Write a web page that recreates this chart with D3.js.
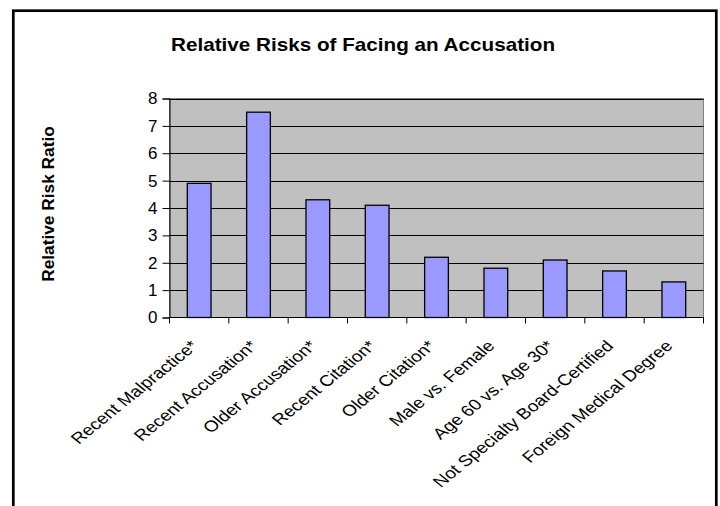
<!DOCTYPE html>
<html>
<head>
<meta charset="utf-8">
<script src="https://cdn.jsdelivr.net/npm/d3@7"></script>
<style>
  html, body { margin: 0; padding: 0; background: #fff; }
  svg { display: block; }
  text { font-family: "Liberation Sans", Arial, sans-serif; fill: #000; }
</style>
</head>
<body>
<svg id="chart" width="720" height="506"></svg>
<script>
const categories = [
  "Recent Malpractice*",
  "Recent Accusation*",
  "Older Accusation*",
  "Recent Citation*",
  "Older Citation*",
  "Male vs. Female",
  "Age 60 vs. Age 30*",
  "Not Specialty Board-Certified",
  "Foreign Medical Degree"
];
const values = [4.9, 7.5, 4.3, 4.1, 2.2, 1.8, 2.1, 1.7, 1.3];
const yTicks = [0, 1, 2, 3, 4, 5, 6, 7, 8];
const chartTitle = "Relative Risks of Facing an Accusation";
const yAxisTitle = "Relative Risk Ratio";

const svg = d3.select("#chart");
const K = 1.13;   // horizontal text stretch of the reference
const KX = 1.23;  // stretch for rotated category labels

// outer frame
svg.append("rect")
  .attr("x", 13.3).attr("y", 10.7)
  .attr("width", 716.3 - 13.3).attr("height", 560)
  .attr("fill", "#fff").attr("stroke", "#000").attr("stroke-width", 2.7);

const plot = { left: 169.5, right: 703.5, top: 98.5, bottom: 317.5 };

const x = d3.scaleBand()
  .domain(categories)
  .range([plot.left, plot.right])
  .paddingInner(0.6).paddingOuter(0.3);

const xb = d3.scaleBand().domain(categories).range([plot.left, plot.right]);

const y = d3.scaleLinear().domain([0, 8]).range([plot.bottom, plot.top]);

// plot background
svg.append("rect")
  .attr("x", plot.left).attr("y", plot.top)
  .attr("width", plot.right - plot.left).attr("height", plot.bottom - plot.top)
  .attr("fill", "#C0C0C0").attr("stroke", "#808080").attr("stroke-width", 1);

// gridlines
svg.append("g").selectAll("line")
  .data(yTicks.filter(d => d > 0))
  .join("line")
  .attr("x1", plot.left).attr("x2", plot.right)
  .attr("y1", d => Math.round(y(d)) + 0.5).attr("y2", d => Math.round(y(d)) + 0.5)
  .attr("stroke", "#000").attr("stroke-width", 1);

// bars
svg.append("g").selectAll("rect")
  .data(values)
  .join("rect")
  .attr("x", (d, i) => x(categories[i]))
  .attr("width", x.bandwidth())
  .attr("y", d => y(d))
  .attr("height", d => plot.bottom - y(d))
  .attr("fill", "#9999FF")
  .attr("stroke", "#000").attr("stroke-width", 1.3);

// y axis
const yAxis = svg.append("g")
  .attr("transform", `translate(${plot.left},0)`)
  .call(d3.axisLeft(y).tickValues(yTicks).tickSize(7).tickPadding(5).tickFormat(d3.format("d")));
yAxis.select(".domain").attr("stroke", "#000");
yAxis.selectAll(".tick line").attr("stroke", "#000");
yAxis.selectAll(".tick text")
  .attr("font-size", 17)
  .attr("font-family", "'Liberation Sans', Arial, sans-serif")
  .attr("fill", "#000");

// x axis line and ticks at category boundaries
const boundaries = categories.map(c => xb(c)).concat([plot.right]);
svg.append("line")
  .attr("x1", plot.left).attr("x2", plot.right)
  .attr("y1", plot.bottom).attr("y2", plot.bottom)
  .attr("stroke", "#000").attr("stroke-width", 1);
svg.append("g").selectAll("line")
  .data(boundaries)
  .join("line")
  .attr("x1", d => d).attr("x2", d => d)
  .attr("y1", plot.bottom).attr("y2", plot.bottom + 6)
  .attr("stroke", "#000").attr("stroke-width", 1);

// x labels
svg.append("g").selectAll("text")
  .data(categories)
  .join("text")
  .attr("transform", d => `translate(${xb(d) + xb.bandwidth() / 2},${plot.bottom + 29.5}) scale(${KX},1) rotate(-45)`)
  .attr("text-anchor", "end")
  .attr("font-size", 15.5)
  .text(d => d);

// title
svg.append("text")
  .attr("transform", `translate(363,51) scale(${K},1)`)
  .attr("text-anchor", "middle")
  .attr("font-size", 18.3)
  .attr("font-weight", "bold")
  .text(chartTitle);

// y axis title
svg.append("text")
  .attr("transform", `translate(54,204) rotate(-90)`)
  .attr("text-anchor", "middle")
  .attr("font-size", 17.3)
  .attr("font-weight", "bold")
  .text(yAxisTitle);
</script>
</body>
</html>
